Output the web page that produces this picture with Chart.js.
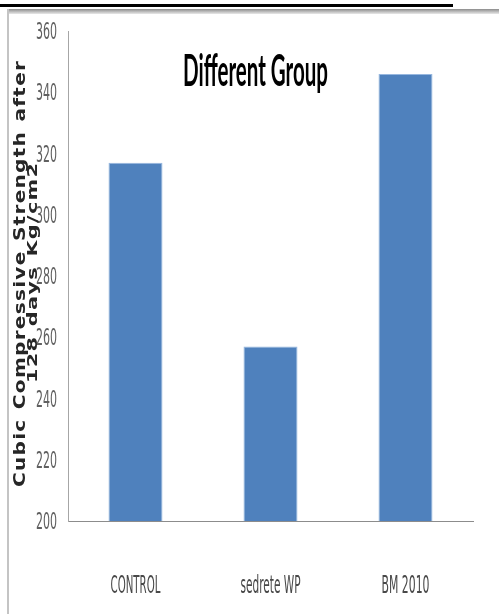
<!DOCTYPE html>
<html>
<head>
<meta charset="utf-8">
<script src="https://cdn.jsdelivr.net/npm/chart.js@4.4.1/dist/chart.umd.min.js"></script>
<style>
  html, body { margin: 0; padding: 0; background: #ffffff; }
  #wrap { position: relative; width: 499px; height: 614px; }
</style>
</head>
<body>
<div id="wrap"><canvas id="c" width="499" height="614"></canvas></div>
<script>
const categories = ["CONTROL", "sedrete WP", "BM 2010"];
const strengthValues = [317, 257, 346];
const yTickValues = [200, 220, 240, 260, 280, 300, 320, 340, 360];
const chartTitle = "Different Group";
const yTitleLines = ["Cubic Compressive Strength after", "128 days Kg/cm2"];

function fitText(ctx, text, font, targetW, x, y, align, rot, color) {
  ctx.save();
  ctx.font = font;
  const w = ctx.measureText(text).width;
  const s = targetW / w;
  ctx.translate(x, y);
  if (rot) ctx.rotate(rot);
  ctx.scale(s, 1);
  ctx.textAlign = align;
  ctx.textBaseline = 'alphabetic';
  ctx.fillStyle = color;
  ctx.fillText(text, 0, 0);
  ctx.restore();
}

function boxText(ctx, text, family, targetW, capH, ls, ws, x, y, rot, color) {
  ctx.save();
  ctx.font = 'bold 20px ' + family;
  let plain = 0;
  for (const ch of text) plain += ctx.measureText(ch).width;
  const n = text.length;
  const spaces = (text.match(/ /g) || []).length;
  const fixed = ls * (n - 1) + ws * spaces;
  const size = 20 * (targetW - fixed) / plain;
  ctx.font = 'bold ' + size.toFixed(2) + 'px ' + family;
  const sy = capH / (0.73 * size);
  ctx.translate(x, y);
  if (rot) ctx.rotate(rot);
  ctx.scale(1, sy);
  ctx.textAlign = 'left';
  ctx.textBaseline = 'alphabetic';
  ctx.fillStyle = color;
  let cx = -targetW / 2;
  for (const ch of text) {
    ctx.fillText(ch, cx, 0);
    cx += ctx.measureText(ch).width + ls + (ch === ' ' ? ws : 0);
  }
  ctx.restore();
}

const xLabelWidths = [50, 60, 48];

const decor = {
  id: 'decor',
  beforeDraw(chart) {
    const ctx = chart.ctx;
    ctx.save();
    ctx.fillStyle = '#ffffff';
    ctx.fillRect(0, 0, chart.width, chart.height);
    ctx.fillStyle = '#000000';
    ctx.fillRect(0, 4, 453, 3);
    const g = ctx.createLinearGradient(0, 9, 0, 14);
    g.addColorStop(0, '#8c8c8c');
    g.addColorStop(1, '#e8e8e8');
    ctx.fillStyle = g;
    ctx.fillRect(8, 9, chart.width - 8, 5);
    ctx.fillStyle = '#c4c4c4';
    ctx.fillRect(7, 9, 2, chart.height - 9);
    ctx.restore();
  },
  afterDraw(chart) {
    const ctx = chart.ctx;
    const ys = chart.scales.y, xs = chart.scales.x;
    yTickValues.forEach(v => {
      const py = ys.getPixelForValue(v);
      fitText(ctx, String(v), '23px "Liberation Sans Narrow", "DejaVu Sans Condensed", sans-serif', 21, 57, py + 8, 'right', 0, '#606060');
    });
    categories.forEach((c, i) => {
      const px = xs.getPixelForValue(i);
      fitText(ctx, c, '25px "Liberation Sans Narrow", "DejaVu Sans Condensed", sans-serif', xLabelWidths[i], px, 593, 'center', 0, '#484848');
    });
    fitText(ctx, chartTitle, 'bold 44px Lato, "Liberation Sans", sans-serif', 145, 255.5, 86, 'center', 0, '#000000');
    boxText(ctx, yTitleLines[0], '"DejaVu Sans", sans-serif', 426, 12, 1.3, 1, 25, 274, -Math.PI / 2, '#262626');
    boxText(ctx, yTitleLines[1], '"DejaVu Sans", sans-serif', 220, 10, 1.3, 1, 37, 273, -Math.PI / 2, '#262626');
  }
};

new Chart(document.getElementById('c'), {
  type: 'bar',
  data: {
    labels: categories,
    datasets: [{
      data: strengthValues,
      backgroundColor: '#4f81bd',
      borderColor: 'rgba(140,175,220,0.9)',
      borderWidth: 1,
      categoryPercentage: 1.0,
      barPercentage: 0.4
    }]
  },
  options: {
    responsive: false,
    animation: false,
    devicePixelRatio: 1,
    layout: { padding: { left: 68, right: 26, top: 31, bottom: 93 } },
    plugins: { legend: { display: false }, title: { display: false }, tooltip: { enabled: false } },
    scales: {
      x: {
        grid: { display: false, drawTicks: false },
        border: { display: true, color: '#8c8c8c', width: 1 },
        ticks: { display: false }
      },
      y: {
        min: 200, max: 360,
        grid: { display: false, drawTicks: false },
        border: { display: true, color: '#a6a6a6', width: 1 },
        ticks: { display: false, stepSize: 20 }
      }
    }
  },
  plugins: [decor]
});
</script>
</body>
</html>
